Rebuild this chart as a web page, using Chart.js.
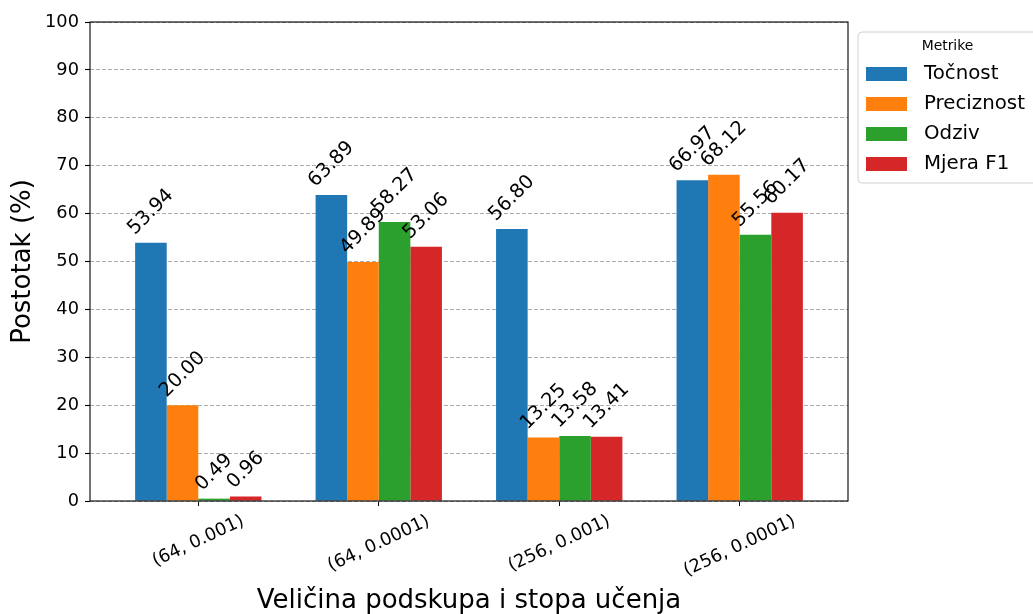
<!DOCTYPE html>
<html>
<head>
<meta charset="utf-8">
<script src="https://cdn.jsdelivr.net/npm/chart.js@4"></script>
<style>
  body { margin: 0; background: #fff; }
  #wrap { width: 1033px; height: 614px; position: relative; }
</style>
</head>
<body>
<div id="wrap"><canvas id="chart"></canvas></div>
<script>
// Chart data
const groups = ['(64, 0.001)', '(64, 0.0001)', '(256, 0.001)', '(256, 0.0001)'];
const metrics = ['Točnost', 'Preciznost', 'Odziv', 'Mjera F1'];
const tocnost = [53.94, 63.89, 56.80, 66.97];
const preciznost = [20.00, 49.89, 13.25, 68.12];
const odziv = [0.49, 58.27, 13.58, 55.56];
const mjeraF1 = [0.96, 53.06, 13.41, 60.17];
const colors = ['#1f77b4', '#ff7f0e', '#2ca02c', '#d62728'];

const FONT = "'DejaVu Sans', sans-serif";
const seriesValues = [tocnost, preciznost, odziv, mjeraF1];

const datasets = metrics.map((name, k) => ({
  label: name,
  data: seriesValues[k].map((v, i) => ({ x: i, y: v })),
  backgroundColor: colors[k],
  borderWidth: 0,
  categoryPercentage: 0.7,
  barPercentage: 1.0,
}));

// Frame (all four spines), value labels, x tick labels, legend
const extras = {
  id: 'extras',
  afterDatasetsDraw(chart) {
    const ctx = chart.ctx;
    const a = chart.chartArea;
    ctx.save();
    ctx.strokeStyle = '#000';
    ctx.lineWidth = 1.1;
    ctx.strokeRect(a.left, a.top, a.right - a.left, a.bottom - a.top);

    // value labels rotated 45 degrees above each bar
    const fs = 19.4;
    ctx.font = fs + 'px ' + FONT;
    ctx.fillStyle = '#000';
    ctx.textAlign = 'center';
    ctx.textBaseline = 'middle';
    chart.data.datasets.forEach((ds, k) => {
      const meta = chart.getDatasetMeta(k);
      meta.data.forEach((bar, i) => {
        const txt = ds.data[i].y.toFixed(2);
        const w = ctx.measureText(txt).width;
        const off = (w + 1.17 * fs) * 0.7071 / 2 + 3;
        ctx.save();
        ctx.translate(bar.x, bar.y - off);
        ctx.rotate(-Math.PI / 4);
        ctx.fillText(txt, 0, 0);
        ctx.restore();
      });
    });

    // x tick labels rotated 25 degrees, centered under ticks
    const xs = chart.scales.x;
    const tfs = 17.8;
    ctx.font = tfs + 'px ' + FONT;
    const ang = 25 * Math.PI / 180;
    groups.forEach((g, i) => {
      const px = xs.getPixelForValue(i);
      const w = ctx.measureText(g).width;
      const hb = w * Math.sin(ang) + 1.17 * tfs * Math.cos(ang);
      ctx.save();
      ctx.translate(px, a.bottom + 10 + hb / 2);
      ctx.rotate(-ang);
      ctx.fillText(g, 0, 0);
      ctx.restore();
    });

    // legend box
    const lx = 858, ly = 32, lw = 179, lh = 151, r = 4;
    ctx.beginPath();
    ctx.moveTo(lx + r, ly);
    ctx.lineTo(lx + lw - r, ly);
    ctx.arcTo(lx + lw, ly, lx + lw, ly + r, r);
    ctx.lineTo(lx + lw, ly + lh - r);
    ctx.arcTo(lx + lw, ly + lh, lx + lw - r, ly + lh, r);
    ctx.lineTo(lx + r, ly + lh);
    ctx.arcTo(lx, ly + lh, lx, ly + lh - r, r);
    ctx.lineTo(lx, ly + r);
    ctx.arcTo(lx, ly, lx + r, ly, r);
    ctx.closePath();
    ctx.fillStyle = 'rgba(255,255,255,0.8)';
    ctx.fill();
    ctx.strokeStyle = '#d0d0d0';
    ctx.lineWidth = 1;
    ctx.stroke();

    ctx.fillStyle = '#000';
    ctx.font = '13.9px ' + FONT;
    ctx.textAlign = 'center';
    ctx.fillText('Metrike', lx + lw / 2, 46);
    ctx.font = '19.8px ' + FONT;
    ctx.textAlign = 'left';
    chart.data.datasets.forEach((ds, k) => {
      const cy = 74 + k * 30;
      ctx.fillStyle = ds.backgroundColor;
      ctx.fillRect(866, cy - 7, 41, 14);
      ctx.fillStyle = '#000';
      ctx.fillText(ds.label, 924, cy);
    });
    ctx.restore();
  }
};

new Chart(document.getElementById('chart'), {
  type: 'bar',
  data: { datasets },
  options: {
    responsive: true,
    maintainAspectRatio: false,
    animation: false,
    layout: { padding: { top: 22, right: 185, left: 0, bottom: 0 } },
    plugins: {
      legend: { display: false },
      tooltip: { enabled: false },
    },
    scales: {
      x: {
        type: 'linear',
        min: -0.6,
        max: 3.6,
        offset: false,
        afterFit: (s) => { s.height = 113; },
        ticks: { stepSize: 1, includeBounds: false, display: false },
        grid: {
          offset: false,
          drawOnChartArea: false,
          drawTicks: true,
          tickLength: 5,
          tickColor: '#000',
        },
        border: { display: false },
        title: {
          display: true,
          text: 'Veličina podskupa i stopa učenja',
          color: '#000',
          font: { family: FONT, size: 26, lineHeight: 1.0 },
          padding: { top: 0, bottom: 0 },
        },
      },
      y: {
        min: 0,
        max: 100,
        afterFit: (s) => { s.width = 90; },
        ticks: {
          stepSize: 10,
          color: '#000',
          padding: 6,
          font: { family: FONT, size: 17.8 },
        },
        grid: {
          color: '#aaaaaa',
          lineWidth: 1,
          tickLength: 5,
          tickColor: '#000',
          tickBorderDash: [],
          tickWidth: 1.1,
        },
        border: { display: false, dash: [4, 2] },
        title: {
          display: true,
          text: 'Postotak (%)',
          color: '#000',
          font: { family: FONT, size: 26 },
          padding: { top: 8, bottom: 0 },
        },
      },
    },
  },
  plugins: [extras],
});
</script>
</body>
</html>
